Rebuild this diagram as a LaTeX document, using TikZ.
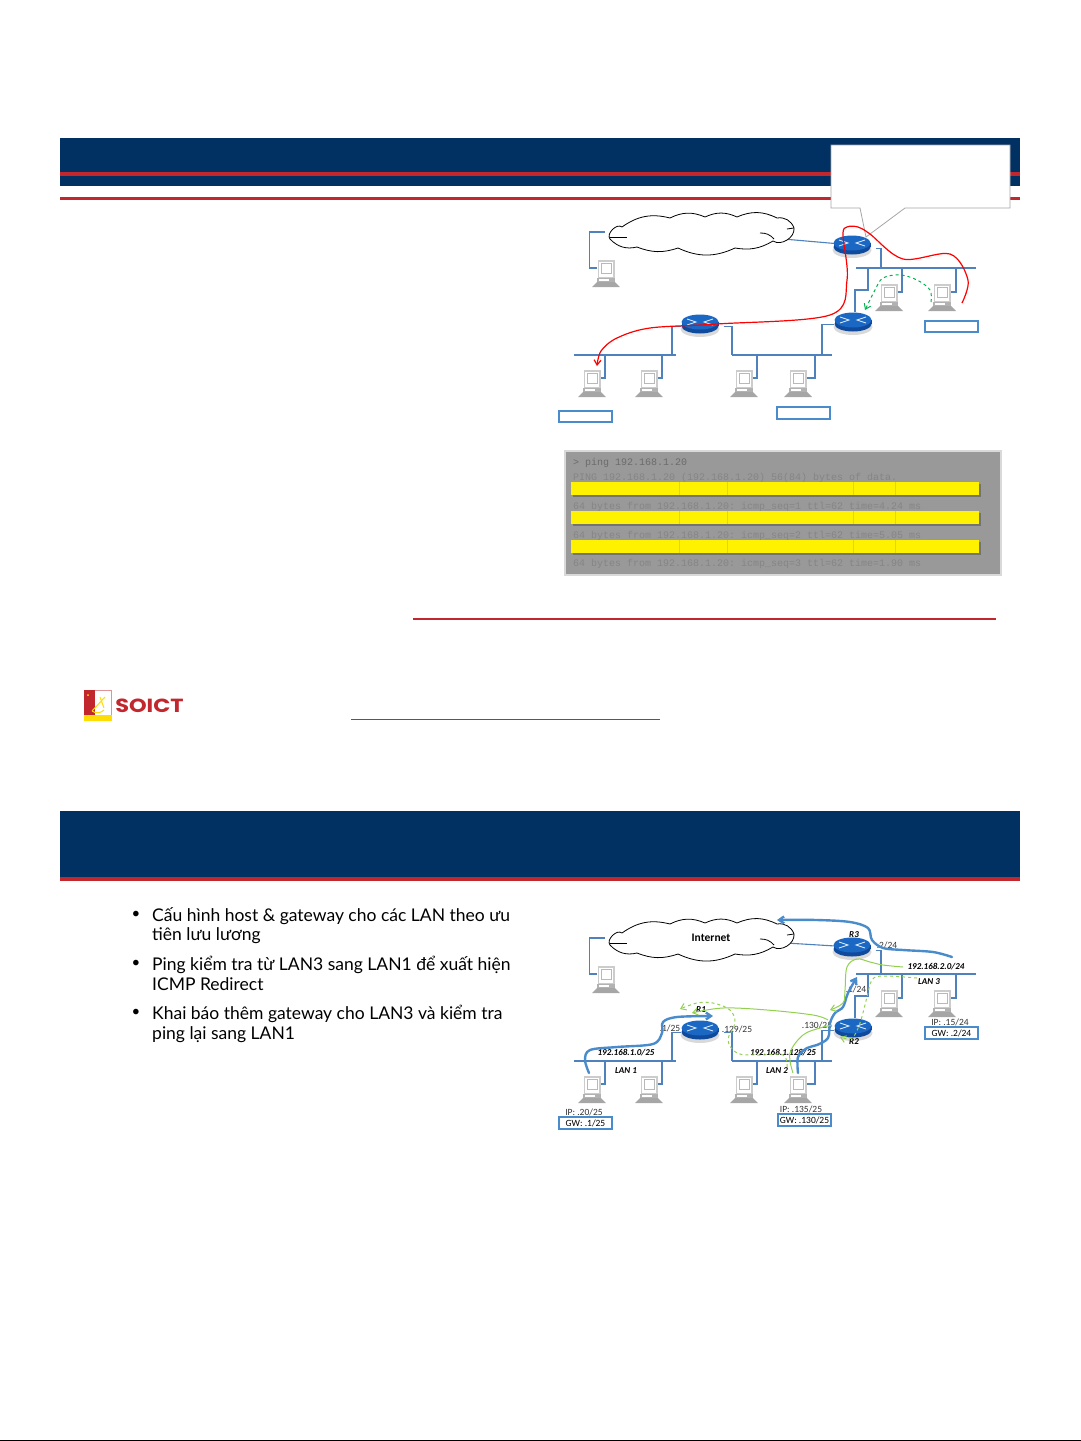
\documentclass[tikz,border=0pt]{standalone}
\usepackage{graphicx}
\usepackage{fontspec}
\setmainfont{Lato}
\newfontfamily\netfont{Carlito}
\newfontfamily\logofont{Poppins}
\setmonofont{Liberation Mono}
\usepackage{tikz}
\usetikzlibrary{calc,arrows.meta,positioning,backgrounds}
\definecolor{headnavy}{HTML}{003162}
\definecolor{headred}{HTML}{C1272D}
\definecolor{linkblue}{HTML}{4F81BD}
\definecolor{flowblue}{HTML}{4A8CCB}
\definecolor{flowgreen}{HTML}{92D050}
\definecolor{dashgreen}{HTML}{00B050}
\definecolor{routertop}{HTML}{1A68C4}
\definecolor{routerside}{HTML}{0F4A9C}
\definecolor{consolegray}{HTML}{999999}
\tikzset{
    lan link/.style={linkblue,line width=1.1},
    lan bus/.style={fill=linkblue,inner sep=0,minimum height=2.4},
    addr box/.style={draw=flowblue,line width=1.6,fill=white,inner sep=0,minimum height=11.5,minimum width=53,font=\netfont\fontsize{9.5}{10}\selectfont},
    net label/.style={font=\netfont\fontsize{9.5}{10}\selectfont,inner sep=0,text=black!80},
    net title/.style={font=\netfont\bfseries\itshape\fontsize{9}{10}\selectfont,inner sep=0},
    blue flow/.style={flowblue,line width=2.4,->,line cap=round},
    green flow/.style={flowgreen,line width=1,->},
    console line/.style={anchor=base west,inner sep=0,text=black!48,font=\ttfamily\fontsize{10}{10}\selectfont},
    bullet item/.style={anchor=north west,align=left,inner sep=0,font=\fontsize{17.5}{19.6}\selectfont},
    >={Straight Barb[length=5,width=7]},
    router/.pic={
        \fill[gray!30] (0,5) ellipse (19.5 and 8);
        \node[minimum width=37,minimum height=19,inner sep=0] (-body) at (0,0) {};
        \fill[routerside] (0,2) ellipse (18.5 and 7.5);
        \fill[routerside] (-18.5,-2) rectangle (18.5,2);
        \fill[routertop] (0,-2) ellipse (18.5 and 7.5);
        \draw[white!85!routertop,line width=.9] (-13,-5) -- (-4,-2) -- (-13,1);
        \draw[white!85!routertop,line width=.9] (13,-5) -- (4,-2) -- (13,1);
    },
    computer/.pic={
        \node[minimum width=28,minimum height=28,inner sep=0] (-body) at (0,0) {};
        \coordinate (-port) at (9,-6);
        \coordinate (-lport) at (-9,-6);
        \fill[gray!40] (-8.5,-14) rectangle (8.5,4);
        \fill[white] (-7,-12.5) rectangle (7,2.5);
        \fill[gray!55] (-5.5,-11) rectangle (5.5,0);
        \fill[white] (-4.5,-10) rectangle (4.5,-1);
        \fill[gray!60] (-9,4) rectangle (9,8);
        \fill[white] (-7.5,5) rectangle (3,7);
        \fill[gray!70] (-9,8) -- (9,8) -- (14,13) -- (-14,13) -- cycle;
    }
}
\begin{document}
\begin{tikzpicture}[x=1pt,y=-1pt]
\useasboundingbox (0,0) rectangle (1081,1441);
\fill[black] (0,1440) rectangle (1081,1441);
\fill[headnavy] (60,138) rectangle (1020,186);
\fill[headred] (60,172) rectangle (1020,176);
\fill[headred] (60,197) rectangle (1020,200);
\fill[headnavy] (60,811) rectangle (1020,877);
\fill[headred] (60,877) rectangle (1020,881);
\draw[fill=white,draw=gray!70,line width=.8] (831,145) -- (1010,145) -- (1010,208) -- (905,208) -- (866,237) -- (860,208) -- (831,208) -- cycle;
\foreach \k/\dy/\ry in {a/0/245,b/706/241}{
\begin{scope}[shift={(0,\dy)}]
\node[minimum width=196,minimum height=43,inner sep=0] (cl\k) at (703,232) {};
\draw[fill=white,draw=black,line width=.8] (622,227) to[bend left=25] (670,218) to[bend left=25] (705,217) to[bend left=25] (737,217) to[bend left=25] (777,218) to[bend left=40] (794,228) to[bend left=65] (773,241) to[bend left=20] (735,248) to[bend left=25] (678,248) to[bend left=20] (637,247) to[bend left=30] (610,239) to[bend left=85] (622,227) -- cycle;
\draw[black,line width=.8] (610,237) -- (627,237);
\draw[black,line width=.8] (760,233) to[bend left=25] (774,239);
\draw[black,line width=.8] (787,229) -- (794,228);
\pic (pc0\k) at (606,274) {computer};
\pic (R1\k) at (700,324) {router};
\pic (R2\k) at (853,322) {router};
\pic (R3\k) at (852,\ry) {router};
\node[lan bus,minimum width=102] (lan1\k) at (625,355) {};
\node[lan bus,minimum width=100] (lan2\k) at (782,355) {};
\node[lan bus,minimum width=120] (lan3\k) at (916,268) {};
\coordinate (tapR1l\k) at (672,355);
\coordinate (tapR1r\k) at (732,355);
\coordinate (tapR2l\k) at (822,355);
\coordinate (tapR2u\k) at (868,268);
\coordinate (tapR3\k) at (881,268);
\coordinate (elbow\k) at (868,290);
\foreach \i/\x/\y/\w/\b in {1/592/384/13/355,2/649/384/13/355,3/744/384/13/355,4/798/384/17/355,5/889/298/13/268,6/942/298/14/268}{
    \pic (pc\i\k) at (\x,\y) {computer};
    \coordinate (tap\i\k) at (\x+\w,\b);
    \begin{scope}[on background layer]
    \draw[lan link] (pc\i\k-port) -| (tap\i\k);
    \end{scope}
}
\begin{scope}[on background layer]
\draw[lan link] (cl\k.center) -- (R3\k-body.center);
\draw[lan link] (cl\k.west) -- ++(-15,0) |- (pc0\k-lport);
\draw[lan link] (R1\k-body.188) -| (tapR1l\k);
\draw[lan link,shorten <=5] (R1\k-body.352) -| (tapR1r\k);
\draw[lan link] (R2\k-body.188) -| (tapR2l\k);
\draw[lan link,shorten <=5] (R3\k-body.350) -| (tapR3\k);
\draw[lan link] ([xshift=2]R2\k-body.north) |- (elbow\k) -- (tapR2u\k);
\end{scope}
\end{scope}
}
\node[addr box] (boxA) at (951.5,326.5) {};
\node[addr box] (boxB) at (585.5,416.5) {};
\node[addr box] (boxC) at (803.5,413) {};
\coordinate (redstart) at (962,303);
\coordinate (redend) at (597,366);
\draw[red,line width=1.2,->] plot[smooth,tension=.55] coordinates {(redstart) (968,280) (950,254) (903,259) (870,234) (858,227) (847,227) (843,235) (847,280) (830,315) (717,324) (650,328) (617,338) (601,351) (redend)};
\coordinate (dashstart) at (931,302);
\coordinate (dashend) at (865,310);
\draw[dashgreen,line width=1,dashed,->] plot[smooth,tension=.6] coordinates {(dashstart) (930,290) (917,280) (900,275) (883,278) (875,290) (dashend)};
\fill[consolegray] (566,452) rectangle (1000,574);
\draw[gray!30,line width=2] (565,451) rectangle (1001,575);
\node[console line,text=black!58] (cmd) at (573,465) {> ping 192.168.1.20};
\node[console line] (ln0) at (573,480) {PING 192.168.1.20 (192.168.1.20) 56(84) bytes of data.};
\foreach \i/\y/\t in {1/509/4.24,2/538/5.05,3/566/1.90}
    \node[console line] (ln\i) at (573,\y) {64 bytes from 192.168.1.20: icmp\_seq=\i{} ttl=62 time=\t{} ms};
\foreach \y in {482,511,540}{
    \fill[black!55] (573,\y+2) rectangle (981,\y+15);
    \fill[yellow] (571,\y) rectangle (979,\y+13);
    \foreach \x in {679,727,853,895}
        \draw[yellow!85!black,line width=.6] (\x,\y) -- (\x,\y+13);
}
\draw[headred,line width=1.4] (413,619) -- (996,619);
\draw[routerside!80!cyan,line width=1] (351,719) -- (660,719);
\fill[headred] (84,690) rectangle (95,715);
\fill[white] (95,691) rectangle (111.5,715);
\draw[headred!50,line width=.5] (95,690.3) -- (111.7,690.3) -- (111.7,715);
\fill[yellow!80!orange] (84,715) rectangle (112,721);
\draw[yellow!80!orange,line width=1] (105,697) -- (92,711) (100,697) -- (104,708) (92,711) to[bend right=40] (104,710);
\fill[yellow] (88,695) circle (1);
\node[font=\logofont\bfseries\fontsize{19}{19}\selectfont,text=headred,inner sep=0] (soict) at (149.5,705.5) {\scalebox{1.18}[1]{SOICT}};
\foreach \y in {915,964,1013}
    \node[font=\fontsize{15}{15}\selectfont,inner sep=0] (dot\y) at (136,\y) {•};
\node[bullet item] (item1) at (152,907) {Cấu hình host \& gateway cho các LAN theo ưu\\tiên lưu lương};
\node[bullet item] (item2) at (152,956) {Ping kiểm tra từ LAN3 sang LAN1 để xuất hiện\\ICMP Redirect};
\node[bullet item] (item3) at (152,1005) {Khai báo thêm gateway cho LAN3 và kiểm tra\\ping lại sang LAN1};
\node[addr box] (gw3) at (951.5,1033) {GW: .2/24};
\node[addr box] (gw1) at (585.5,1123) {GW: .1/25};
\node[addr box] (gw2) at (804.5,1120) {GW: .130/25};
\node[font=\netfont\bfseries\fontsize{11.5}{12}\selectfont,inner sep=0] (inet) at (711,938) {Internet};
\foreach \n/\x/\y/\txt in {a/887/945/{.2/24},b/856/989/{.1/24},c/817/1025/{.130/25},d/737/1029/{.129/25},e/670/1028/{.1/25},f/950/1022/{IP: .15/24},g/584/1112/{IP: .20/25},h/801/1109/{IP: .135/25}}
    \node[net label] (lab\n) at (\x,\y) {\txt};
\foreach \n/\x/\y/\txt in {a/854/935/R3,b/701/1010/R1,c/854/1042/R2,d/936/967/{192.168.2.0/24},e/929/982/LAN 3,f/626/1053/{192.168.1.0/25},g/783/1053/{192.168.1.128/25},h/626/1071/LAN 1,i/777/1071/LAN 2}
    \node[net title] (tit\n) at (\x,\y) {\txt};
\draw[blue flow] plot[smooth,tension=.55] coordinates {(952,957) (933,952) (903,950) (883,948) (872,940) (868,928) (850,922) (817,920) (777,920)};
\draw[blue flow] plot[smooth,tension=.55] coordinates {(589,1073) (585,1060) (590,1050) (617,1047) (653,1044) (662,1033) (663,1022) (677,1017) (713,1016)};
\draw[blue flow] plot[smooth,tension=.55] coordinates {(798,1073) (798,1057) (807,1048) (817,1045) (828,1038) (830,1023) (835,1013) (843,1007) (848,993) (857,977)};
\draw[green flow] plot[smooth,tension=.6] coordinates {(903,967) (883,965) (870,962) (857,959) (847,967) (845,990) (843,1003) (830,1010)};
\draw[green flow] plot[smooth,tension=.6] coordinates {(828,1020) (813,1015) (767,1010) (723,1008) (692,1013)};
\draw[flowgreen,line width=1] plot[smooth,tension=.6] coordinates {(793,1073) (790,1053) (803,1035) (820,1028) (832,1025)};
\draw[green flow,dashed] plot[smooth,tension=.6] coordinates {(917,978) (883,976) (872,980) (867,997) (860,1023) (852,1038) (840,1037)};
\draw[green flow,dashed] plot[smooth,tension=.6] coordinates {(787,1067) (783,1055) (757,1055) (737,1053) (728,1040) (735,1023) (730,1010) (713,1003) (697,1003) (680,1009)};
\end{tikzpicture}
\end{document}
